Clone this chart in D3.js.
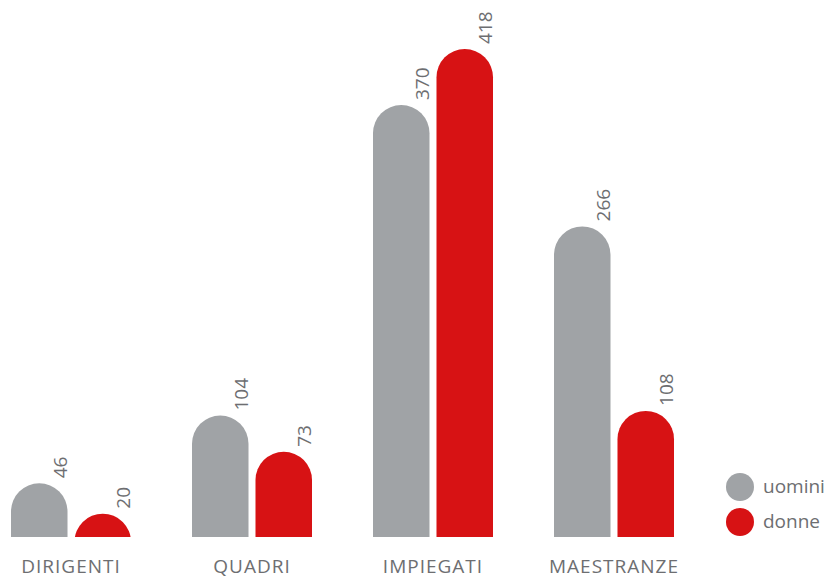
<!DOCTYPE html>
<html>
<head>
<meta charset="utf-8">
<script src="https://cdn.jsdelivr.net/npm/d3@7"></script>
<style>
  body { margin: 0; background: #fff; }
  text { font-family: "Open Sans", sans-serif; fill: #6d6e71; }
</style>
</head>
<body>
<div id="chart"></div>
<script>
// Declare constants
const FRAME_WIDTH = 829;
const FRAME_HEIGHT = 579;
const BASELINE = 537;

// data
const categories = ["DIRIGENTI", "QUADRI", "IMPIEGATI", "MAESTRANZE"];
const seriesNames = ["uomini", "donne"];
const uomini = [46, 104, 370, 266];
const donne = [20, 73, 418, 108];
const colors = ["#a0a3a6", "#d71214"];

const rows = categories.map((c, i) => ({cat: c, values: [uomini[i], donne[i]]}));

const svg = d3.select("#chart")
  .append("svg")
    .attr("width", FRAME_WIDTH)
    .attr("height", FRAME_HEIGHT);

const x0 = d3.scaleBand()
  .domain(categories)
  .range([11, 674])
  .paddingInner(0.337)
  .paddingOuter(0);

const x1 = d3.scaleBand()
  .domain(seriesNames)
  .range([0, x0.bandwidth()])
  .paddingInner(0.11);

const y = d3.scaleLinear()
  .domain([0, 418])
  .range([BASELINE, 49]);

// clip everything below the baseline
svg.append("clipPath").attr("id", "base-clip")
  .append("rect")
    .attr("x", 0).attr("y", 0)
    .attr("width", FRAME_WIDTH).attr("height", BASELINE);

// rounded-top bar, bottom part cut by the clip
function pill(x, w, top) {
  const r = w / 2;
  return `M${x},${BASELINE + r}L${x},${top + r}A${r},${r} 0 0 1 ${x + w},${top + r}L${x + w},${BASELINE + r}Z`;
}

const groups = svg.selectAll(".group")
  .data(rows)
  .enter()
  .append("g")
    .attr("class", "group")
    .attr("transform", d => `translate(${x0(d.cat)},0)`);

const bars = groups.selectAll(".bar")
  .data(d => d.values.map((v, j) => ({name: seriesNames[j], value: v, j: j})))
  .enter();

bars.append("path")
  .attr("class", "bar")
  .attr("clip-path", "url(#base-clip)")
  .attr("fill", d => colors[d.j])
  .attr("d", d => pill(x1(d.name), x1.bandwidth(), y(d.value)));

bars.append("text")
  .attr("transform", d => `translate(${x1(d.name) + x1.bandwidth() - 1},${y(d.value) - 5}) rotate(-90)`)
  .attr("font-size", 19)
  .text(d => d.value);

// category labels
svg.selectAll(".cat-label")
  .data(categories)
  .enter()
  .append("text")
    .attr("class", "cat-label")
    .attr("x", d => x0(d) + x0.bandwidth() / 2)
    .attr("y", 573)
    .attr("text-anchor", "middle")
    .attr("font-size", 19)
    .attr("letter-spacing", 1)
    .text(d => d);

// legend
const legend = svg.selectAll(".legend")
  .data(seriesNames)
  .enter()
  .append("g")
    .attr("class", "legend")
    .attr("transform", (d, i) => `translate(740,${487 + i * 35})`);

legend.append("circle")
  .attr("r", 14)
  .attr("fill", (d, i) => colors[i]);

legend.append("text")
  .attr("x", 23)
  .attr("y", 6)
  .attr("font-size", 19)
  .text(d => d);
</script>
</body>
</html>
